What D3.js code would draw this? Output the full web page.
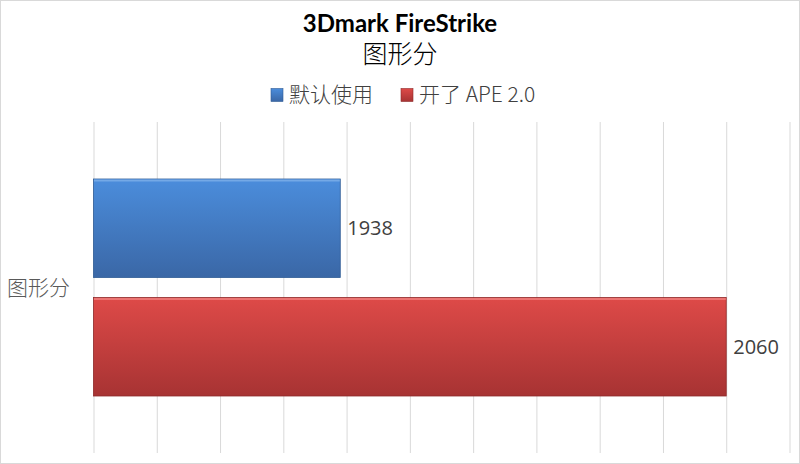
<!DOCTYPE html>
<html>
<head>
<meta charset="utf-8">
<script src="https://cdn.jsdelivr.net/npm/d3@7"></script>
<style>
  body { margin: 0; background: #fff; }
  svg { display: block; }
</style>
</head>
<body>
<div id="container"></div>
<script>
const WIDTH = 800;
const HEIGHT = 464;
const MARGIN = { TOP: 122, BOTTOM: 11, LEFT: 93.5, RIGHT: 10.5 };

// data
const categories = ['图形分'];
const seriesNames = ['默认使用', '开了 APE 2.0'];
const seriesValues = [1938, 2060];
const xTicks = [1860, 1880, 1900, 1920, 1940, 1960, 1980, 2000, 2020, 2040, 2060, 2080];

const COLORS = [
  { top: '#4b8ddc', bottom: '#3a67a6', edge: '#2f5b94', light: '#74a9e6' },
  { top: '#de4a48', bottom: '#a73333', edge: '#8e2a2a', light: '#ec7573' }
];

const width = WIDTH - MARGIN.LEFT - MARGIN.RIGHT;
const height = HEIGHT - MARGIN.TOP - MARGIN.BOTTOM;

const svg = d3.select('#container')
              .append('svg')
                .attr('width', WIDTH)
                .attr('height', HEIGHT);

// frame round the whole picture
svg.append('rect')
     .attr('x', 0.5).attr('y', 0.5)
     .attr('width', WIDTH - 1).attr('height', HEIGHT - 1)
     .attr('fill', '#fff')
     .attr('stroke', '#d9d9d9');

const defs = svg.append('defs');
COLORS.forEach((c, i) => {
  const g = defs.append('linearGradient')
                  .attr('id', `grad${i}`)
                  .attr('x1', 0).attr('y1', 0).attr('x2', 0).attr('y2', 1);
  g.append('stop').attr('offset', '0%').attr('stop-color', c.top);
  g.append('stop').attr('offset', '100%').attr('stop-color', c.bottom);
});

const container = svg.append('g')
                     .attr('transform', `translate(${MARGIN.LEFT}, ${MARGIN.TOP})`);

const xscale = d3.scaleLinear()
                 .domain([xTicks[0], xTicks[xTicks.length - 1]])
                 .range([0, width]);

const yscale = d3.scaleBand()
                 .domain(categories)
                 .range([0, height]);

const sscale = d3.scaleBand()
                 .domain(seriesNames)
                 .range([0, yscale.bandwidth()])
                 .paddingInner(0.169)
                 .paddingOuter(0.481);

// gridlines
const axisBottom = d3.axisBottom(xscale)
                     .tickValues(xTicks)
                     .tickSize(-height)
                     .tickFormat('');

container.append('g')
           .attr('transform', `translate(0, ${height})`)
           .call(axisBottom)
           .call(g => g.select('.domain').remove())
           .call(g => g.selectAll('.tick line')
                       .attr('stroke', '#d9d9d9')
                       .attr('stroke-width', 1));

// category label
container.append('g')
           .selectAll('text')
           .data(categories)
           .enter()
           .append('text')
             .attr('x', 7 - MARGIN.LEFT)
             .attr('y', d => yscale(d) + yscale.bandwidth() / 2)
             .attr('dy', '0.35em')
             .attr('font-family', '"Noto Sans CJK SC", sans-serif')
             .attr('font-weight', 300)
             .attr('font-size', 21)
             .attr('fill', '#595959')
             .text(d => d);

// bars
const bars = container.append('g')
                      .selectAll('g')
                      .data(seriesValues.map((v, i) => ({ name: seriesNames[i], value: v, i })))
                      .enter()
                      .append('g')
                        .attr('transform', d => `translate(0, ${yscale(categories[0]) + sscale(d.name)})`);

bars.append('rect')
      .attr('x', 0)
      .attr('width', d => xscale(d.value))
      .attr('height', sscale.bandwidth())
      .attr('fill', d => `url(#grad${d.i})`)
      .attr('stroke', d => COLORS[d.i].edge)
      .attr('stroke-width', 0.8);

// light top edge
bars.append('rect')
      .attr('x', 0.5)
      .attr('y', 0.5)
      .attr('width', d => xscale(d.value) - 1)
      .attr('height', 2)
      .attr('fill', d => COLORS[d.i].light);

bars.append('text')
      .attr('x', d => xscale(d.value) + 7)
      .attr('y', sscale.bandwidth() / 2)
      .attr('dy', '0.35em')
      .attr('font-family', '"Open Sans", sans-serif')
      .attr('font-size', 20)
      .attr('fill', '#404040')
      .text(d => d.value);

// title
svg.append('text')
     .attr('x', WIDTH / 2)
     .attr('y', 32)
     .attr('text-anchor', 'middle')
     .attr('font-family', 'Lato, sans-serif')
     .attr('font-weight', 'bold')
     .attr('font-size', 24)
     .attr('fill', '#000')
     .text('3Dmark FireStrike');

svg.append('text')
     .attr('x', WIDTH / 2)
     .attr('y', 54)
     .attr('dy', '0.35em')
     .attr('text-anchor', 'middle')
     .attr('font-family', '"Noto Sans CJK SC", sans-serif')
     .attr('font-weight', 300)
     .attr('font-size', 25)
     .attr('fill', '#000')
     .text(categories[0]);

// legend
const legendX = [271, 401];
const legend = svg.append('g')
                  .selectAll('g')
                  .data(seriesNames)
                  .enter()
                  .append('g')
                    .attr('transform', (d, i) => `translate(${legendX[i]}, 95)`);

legend.append('rect')
        .attr('x', 0)
        .attr('y', -6.5)
        .attr('width', 12)
        .attr('height', 13)
        .attr('fill', (d, i) => `url(#grad${i})`)
        .attr('stroke', (d, i) => COLORS[i].edge)
        .attr('stroke-width', 0.6);

legend.append('text')
        .attr('x', 18)
        .attr('y', 0)
        .attr('dy', '0.35em')
        .attr('font-family', '"Noto Sans CJK SC", sans-serif')
        .attr('font-weight', 300)
        .attr('font-size', 21)
        .attr('fill', '#404040')
        .text(d => d);
</script>
</body>
</html>
